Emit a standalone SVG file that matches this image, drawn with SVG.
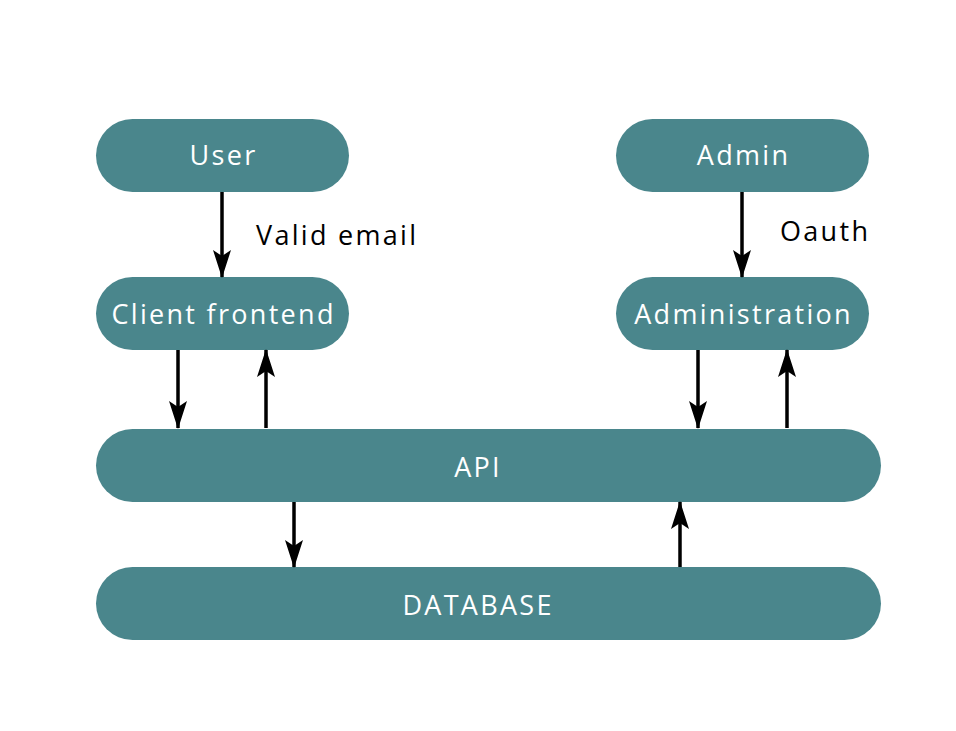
<svg xmlns="http://www.w3.org/2000/svg" width="956" height="731" viewBox="0 0 956 731">
<style>
.node{fill:#4a868c}
.nt{font-family:"Open Sans","Noto Sans",sans-serif;font-size:27px;fill:#ffffff;text-anchor:middle;letter-spacing:2.3px}
.lt{font-family:"Open Sans","Noto Sans",sans-serif;font-size:27px;fill:#000000;letter-spacing:2.3px}
.edge{stroke:#000;stroke-width:3.5;fill:none;marker-end:url(#ah)}
</style>
<defs>
<marker id="ah" markerUnits="userSpaceOnUse" viewBox="0 0 28 18" refX="27" refY="9" markerWidth="28" markerHeight="18" orient="auto">
<path d="M0,0 L28,9 L0,18 L6,9 Z" fill="#000"/>
</marker>
</defs>
<rect width="956" height="731" fill="#ffffff"/>
<g id="user"><rect class="node" x="96" y="119" width="253" height="73" rx="36.5"/><text class="nt" x="223.6" y="165">User</text></g>
<g id="admin"><rect class="node" x="616" y="119" width="253" height="73" rx="36.5"/><text class="nt" x="743.6" y="165">Admin</text></g>
<g id="client"><rect class="node" x="96" y="277" width="253" height="73" rx="36.5"/><text class="nt" x="223.6" y="324">Client frontend</text></g>
<g id="administration"><rect class="node" x="616" y="277" width="253" height="73" rx="36.5"/><text class="nt" x="743.6" y="324">Administration</text></g>
<g id="api"><rect class="node" x="96" y="429" width="785" height="73" rx="36.5"/><text class="nt" x="478.1" y="477">API</text></g>
<g id="database"><rect class="node" x="96" y="567" width="785" height="73" rx="36.5"/><text class="nt" x="478.1" y="615">DATABASE</text></g>
<g id="connectors">
<line class="edge" x1="222" y1="192" x2="222" y2="277"/>
<line class="edge" x1="742" y1="192" x2="742" y2="277"/>
<line class="edge" x1="178" y1="350" x2="178" y2="428"/>
<line class="edge" x1="266" y1="428" x2="266" y2="350"/>
<line class="edge" x1="698" y1="350" x2="698" y2="428"/>
<line class="edge" x1="787" y1="428" x2="787" y2="350"/>
<line class="edge" x1="294" y1="502" x2="294" y2="567"/>
<line class="edge" x1="680" y1="567" x2="680" y2="502"/>
<text class="lt" x="256" y="245">Valid email</text>
<text class="lt" x="780" y="241">Oauth</text>
</g>
</svg>
